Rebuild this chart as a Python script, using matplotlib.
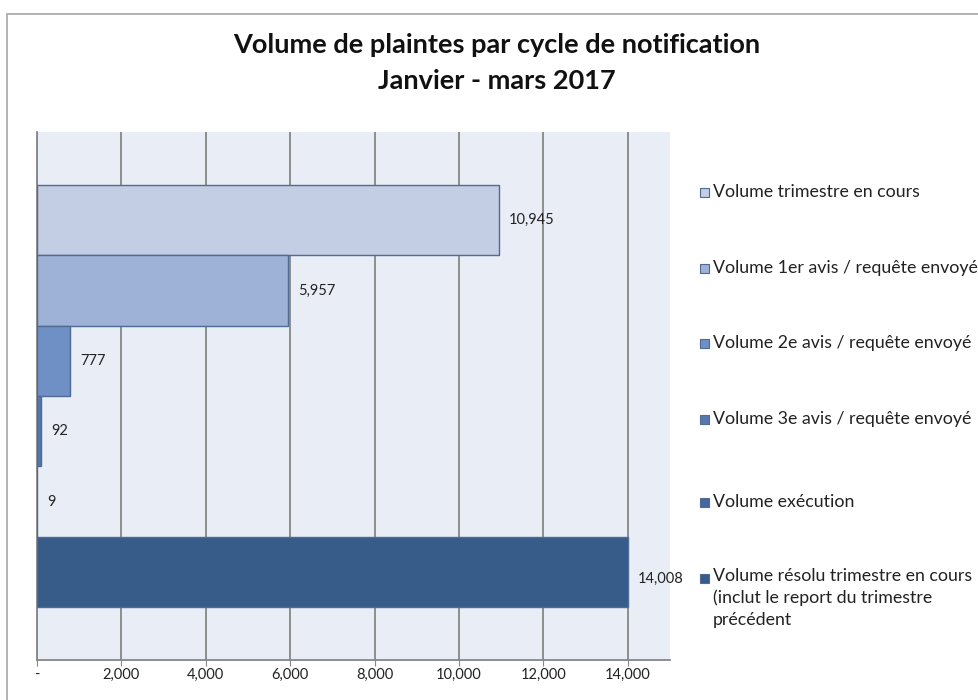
import matplotlib.pyplot as plt
from matplotlib.patches import Rectangle

# data
series = ["Volume trimestre en cours",
          "Volume 1er avis / requête envoyé",
          "Volume 2e avis / requête envoyé",
          "Volume 3e avis / requête envoyé",
          "Volume exécution",
          "Volume résolu trimestre en cours\n(inclut le report du trimestre\nprécédent"]
values = [10945, 5957, 777, 92, 9, 14008]
colors = ["#C3CDE3", "#9DB2D6", "#6E90C4", "#5477B0", "#4568A0", "#375C8A"]
ticks = [0, 2000, 4000, 6000, 8000, 10000, 12000, 14000]
tick_labels = ["-", "2,000", "4,000", "6,000", "8,000", "10,000", "12,000", "14,000"]

plt.rcParams['font.family'] = ['Lato', 'DejaVu Sans']

fig = plt.figure(figsize=(9.79, 7), dpi=100)
ax = fig.add_axes([37/979, 1 - 660/700, (670-37)/979, (660-132)/700])
ax.set_facecolor("#E9EDF5")

# outer chart frame
fig.patches.append(Rectangle((7/979, -0.05), 1.2, 1 - 14/700 + 0.05, transform=fig.transFigure,
                             fill=False, edgecolor="#A6A6A6", linewidth=1.2, zorder=0))

pos = list(range(len(values)))
bars = ax.barh(pos, values, height=1.0, color=colors, edgecolor="#4F6A93", linewidth=1, zorder=3)

ax.set_xlim(0, 15000)
ax.set_ylim(6.25, -1.25)
ax.set_xticks(ticks)
ax.set_xticklabels(tick_labels, fontsize=10.5, color="#222222")
ax.set_yticks([])
ax.grid(axis="x", color="#868686", linewidth=1.3, zorder=1)
for s in ["top", "right"]:
    ax.spines[s].set_visible(False)
for s in ["left", "bottom"]:
    ax.spines[s].set_color("#868686")
    ax.spines[s].set_linewidth(1.3)
ax.tick_params(axis="x", length=4, color="#868686", pad=1.5)

for i, (b, v) in enumerate(zip(bars, values)):
    dy = -7 if i == len(values) - 1 else 0
    ax.annotate(f"{v:,}", (v, b.get_y() + b.get_height() / 2), xytext=(10, dy),
                textcoords="offset pixels", va="center", ha="left", fontsize=10.5, color="#222222")

# legend
leg_y = [192, 268, 343, 419, 502, 578]
for c, lab, y in zip(colors, series, leg_y):
    fig.patches.append(Rectangle((700/979, 1 - (y + 5)/700), 9/979, 9/700, transform=fig.transFigure,
                                 facecolor=c, edgecolor="#4F6A93", linewidth=0.8))
    if "\n" in lab:
        fig.text(713/979, 1 - (y - 10)/700, lab, fontsize=12.8, va="top", ha="left",
                 color="#222222", linespacing=1.42)
    else:
        fig.text(713/979, 1 - y/700, lab, fontsize=12.8, va="center", ha="left", color="#222222")

fig.text(497/979, 1 - 45/700, "Volume de plaintes par cycle de notification", fontsize=19.5,
         fontweight="bold", ha="center", va="center", color="#111111")
fig.text(497/979, 1 - 81/700, "Janvier - mars 2017", fontsize=19.5,
         fontweight="bold", ha="center", va="center", color="#111111")

fig.savefig("out.png", dpi=100)
